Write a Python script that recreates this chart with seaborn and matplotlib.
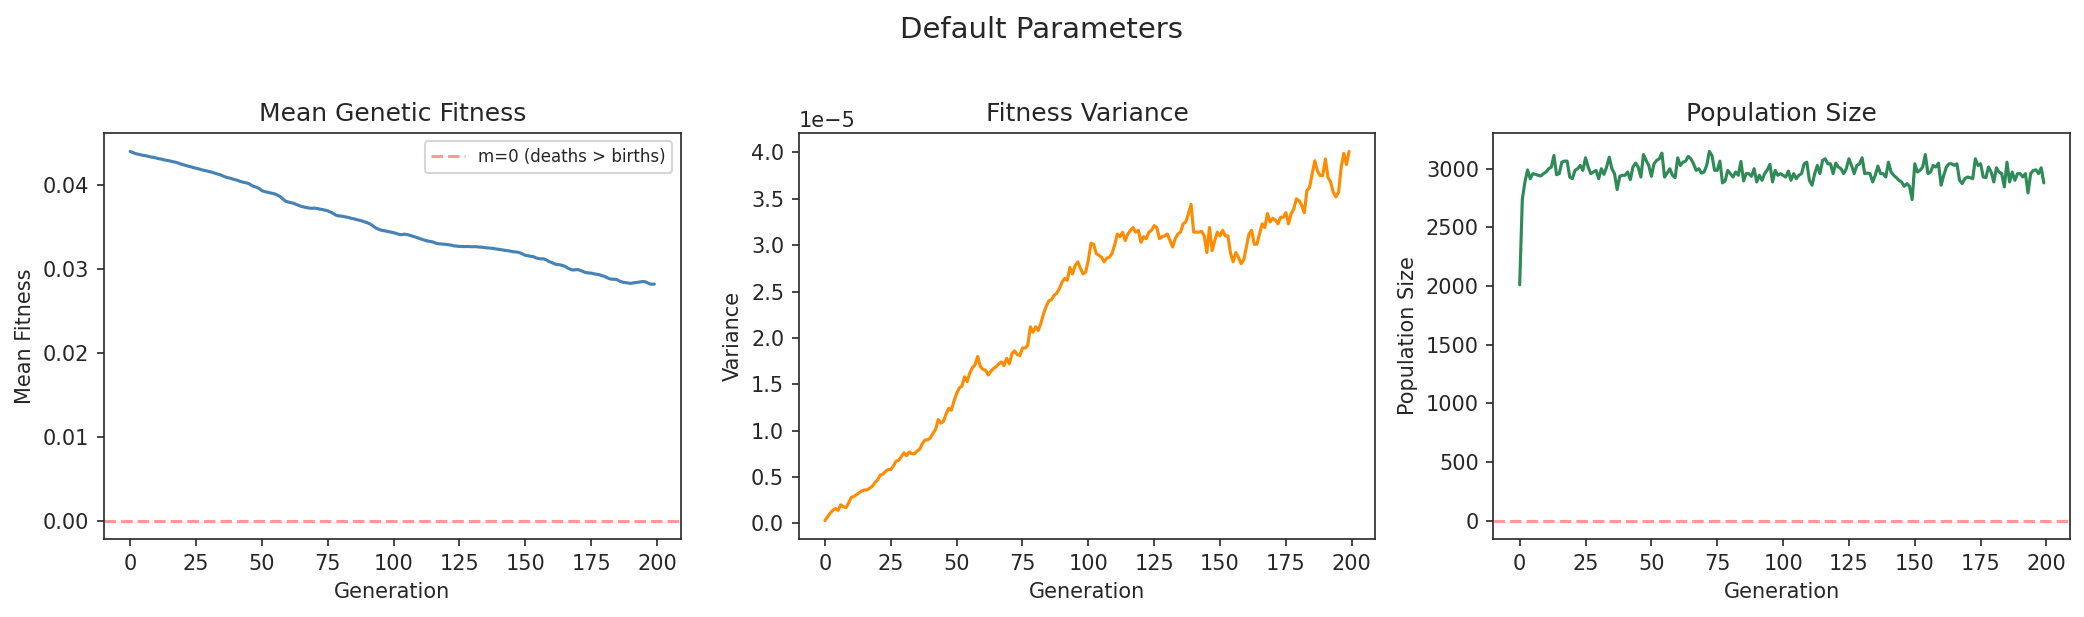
import numpy as np
import pandas as pd
import seaborn as sns
import matplotlib
matplotlib.use("Agg")
import matplotlib.pyplot as plt

# generation index for every series
generations = list(range(200))

mean_fitness = [
    0.04397, 0.04385, 0.04372, 0.04365, 0.04358, 0.04350, 0.04346, 0.04338, 0.04330, 0.04326,
    0.04318, 0.04310, 0.04305, 0.04296, 0.04290, 0.04285, 0.04276, 0.04270, 0.04262, 0.04250,
    0.04240, 0.04232, 0.04222, 0.04215, 0.04205, 0.04198, 0.04190, 0.04180, 0.04172, 0.04166,
    0.04158, 0.04150, 0.04140, 0.04130, 0.04122, 0.04108, 0.04095, 0.04085, 0.04078, 0.04068,
    0.04060, 0.04050, 0.04038, 0.04030, 0.04024, 0.04015, 0.03995, 0.03980, 0.03970, 0.03955,
    0.03930, 0.03920, 0.03912, 0.03905, 0.03898, 0.03890, 0.03875, 0.03858, 0.03830, 0.03805,
    0.03795, 0.03788, 0.03780, 0.03768, 0.03755, 0.03742, 0.03735, 0.03728, 0.03722, 0.03720,
    0.03722, 0.03718, 0.03710, 0.03705, 0.03698, 0.03690, 0.03675, 0.03660, 0.03640, 0.03630,
    0.03628, 0.03622, 0.03615, 0.03610, 0.03600, 0.03595, 0.03585, 0.03578, 0.03570, 0.03558,
    0.03548, 0.03535, 0.03515, 0.03490, 0.03475, 0.03462, 0.03455, 0.03450, 0.03442, 0.03436,
    0.03430, 0.03420, 0.03410, 0.03405, 0.03412, 0.03408, 0.03400, 0.03390, 0.03380, 0.03370,
    0.03358, 0.03348, 0.03338, 0.03330, 0.03325, 0.03318, 0.03305, 0.03298, 0.03296, 0.03292,
    0.03290, 0.03285, 0.03280, 0.03272, 0.03270, 0.03266, 0.03265, 0.03264, 0.03265, 0.03263,
    0.03262, 0.03264, 0.03260, 0.03258, 0.03255, 0.03250, 0.03248, 0.03245, 0.03240, 0.03235,
    0.03230, 0.03225, 0.03220, 0.03216, 0.03212, 0.03205, 0.03200, 0.03198, 0.03190, 0.03175,
    0.03160, 0.03155, 0.03148, 0.03145, 0.03130, 0.03122, 0.03118, 0.03118, 0.03105, 0.03085,
    0.03075, 0.03060, 0.03050, 0.03048, 0.03040, 0.03030, 0.03010, 0.02995, 0.02985, 0.02988,
    0.02990, 0.02980, 0.02965, 0.02955, 0.02950, 0.02948, 0.02940, 0.02935, 0.02930, 0.02918,
    0.02910, 0.02895, 0.02880, 0.02875, 0.02875, 0.02868, 0.02850, 0.02840, 0.02835, 0.02830,
    0.02825, 0.02832, 0.02835, 0.02840, 0.02845, 0.02848, 0.02840, 0.02822, 0.02815, 0.02818,
]

# fitness variance, in units of 1e-5
variance_e5 = [
    0.03, 0.07, 0.11, 0.14, 0.16, 0.14, 0.20, 0.18, 0.17, 0.22,
    0.28, 0.29, 0.31, 0.33, 0.35, 0.36, 0.36, 0.38, 0.40, 0.44,
    0.47, 0.52, 0.53, 0.56, 0.58, 0.58, 0.62, 0.67, 0.68, 0.72,
    0.76, 0.73, 0.77, 0.75, 0.75, 0.78, 0.80, 0.86, 0.90, 0.90,
    0.92, 0.97, 1.01, 1.12, 1.08, 1.10, 1.18, 1.24, 1.22, 1.32,
    1.40, 1.46, 1.48, 1.58, 1.53, 1.62, 1.68, 1.71, 1.80, 1.69,
    1.66, 1.65, 1.60, 1.64, 1.67, 1.69, 1.72, 1.74, 1.70, 1.78,
    1.72, 1.83, 1.86, 1.82, 1.81, 1.89, 1.89, 1.92, 2.12, 2.06,
    2.12, 2.08, 2.16, 2.26, 2.34, 2.40, 2.41, 2.46, 2.48, 2.53,
    2.60, 2.64, 2.62, 2.76, 2.69, 2.78, 2.82, 2.75, 2.69, 2.71,
    2.84, 3.02, 3.01, 2.91, 2.89, 2.87, 2.82, 2.86, 2.87, 2.91,
    3.00, 3.12, 3.09, 3.14, 3.05, 3.12, 3.16, 3.19, 3.14, 3.16,
    3.03, 3.09, 3.07, 3.14, 3.16, 3.21, 3.19, 3.07, 3.09, 3.10,
    3.12, 3.05, 2.98, 3.07, 3.12, 3.14, 3.23, 3.25, 3.34, 3.44,
    3.14, 3.14, 3.14, 3.15, 3.10, 2.92, 3.19, 2.94, 3.05, 3.14,
    3.10, 3.16, 3.10, 3.10, 2.91, 2.82, 2.92, 2.87, 2.80, 2.84,
    2.98, 3.12, 3.16, 3.01, 3.01, 3.12, 3.23, 3.19, 3.34, 3.25,
    3.29, 3.27, 3.23, 3.30, 3.30, 3.35, 3.23, 3.34, 3.39, 3.50,
    3.48, 3.43, 3.35, 3.59, 3.62, 3.77, 3.91, 3.80, 3.75, 3.75,
    3.93, 3.73, 3.68, 3.57, 3.52, 3.57, 3.84, 3.99, 3.87, 4.01,
]

population = [
    2010, 2740, 2890, 2990, 2915, 2958, 2952, 2944, 2938, 2958,
    2972, 3000, 3014, 3113, 2949, 2958, 3056, 3065, 3065, 2929,
    2915, 2986, 3000, 3028, 2986, 3093, 3014, 2958, 2972, 2986,
    2915, 3000, 2952, 3014, 3099, 3000, 2958, 2822, 2935, 2944,
    2944, 2972, 2907, 3014, 3048, 3014, 2929, 3121, 3071, 3028,
    2935, 3042, 3071, 3085, 3133, 2929, 2963, 3000, 2944, 2924,
    3093, 3028, 3056, 3065, 3105, 3085, 3042, 2986, 3000, 2963,
    2972, 3028, 3147, 3113, 2986, 2986, 3065, 2879, 2896, 2986,
    2958, 2929, 2972, 2944, 3062, 2896, 2958, 2958, 2935, 3000,
    2887, 2944, 2901, 2958, 2990, 3037, 2887, 2986, 2944, 2958,
    2944, 2929, 2980, 2901, 2958, 2915, 2944, 2958, 3042, 3056,
    2900, 2859, 2958, 3028, 2958, 3071, 3085, 3042, 3042, 2958,
    3048, 3014, 3000, 2958, 3000, 3085, 3028, 2958, 3028, 3042,
    3093, 2958, 2963, 2958, 2887, 2944, 3023, 2958, 2958, 2929,
    3056, 2972, 2944, 2924, 2901, 2887, 2850, 2873, 2850, 2737,
    3042, 2972, 2986, 3014, 3121, 2958, 2972, 3028, 3014, 3048,
    2859, 2944, 3014, 3042, 3042, 3028, 3042, 2901, 2873, 2915,
    2929, 2924, 2915, 3085, 3028, 3042, 2929, 2924, 3014, 2972,
    2887, 3008, 2972, 2958, 2845, 3056, 2887, 2972, 2901, 2958,
    2958, 2930, 2958, 2794, 2958, 2986, 2990, 2958, 3008, 2879,
]

df = pd.DataFrame({
    "Generation": generations,
    "MeanFitness": mean_fitness,
    "Variance": np.array(variance_e5) * 1e-5,
    "Population": population,
})

sns.set_style("ticks")

fig, (ax1, ax2, ax3) = plt.subplots(1, 3, figsize=(2084 / 150, 617 / 150), dpi=150)
fig.subplots_adjust(left=0.0499, right=0.9933, top=0.7844, bottom=0.1264, wspace=0.205)

sns.lineplot(data=df, x="Generation", y="MeanFitness", ax=ax1, color="steelblue", linewidth=1.5)
ax1.axhline(0, color="red", linestyle="--", alpha=0.4, label="m=0 (deaths > births)")
ax1.set_title("Mean Genetic Fitness", fontsize=12)
ax1.set_ylabel("Mean Fitness")
ax1.legend(fontsize=8, loc="upper right")

sns.lineplot(data=df, x="Generation", y="Variance", ax=ax2, color="darkorange", linewidth=1.5)
ax2.set_title("Fitness Variance", fontsize=12)
ax2.set_ylabel("Variance")

sns.lineplot(data=df, x="Generation", y="Population", ax=ax3, color="seagreen", linewidth=1.5)
ax3.axhline(0, color="red", linestyle="--", alpha=0.4)
ax3.set_title("Population Size", fontsize=12)
ax3.set_ylabel("Population Size")

for ax in (ax1, ax2, ax3):
    ax.set_xlabel("Generation")

fig.suptitle("Default Parameters", fontsize=14, y=0.952, va="center")

plt.savefig("out.png", dpi=150)
